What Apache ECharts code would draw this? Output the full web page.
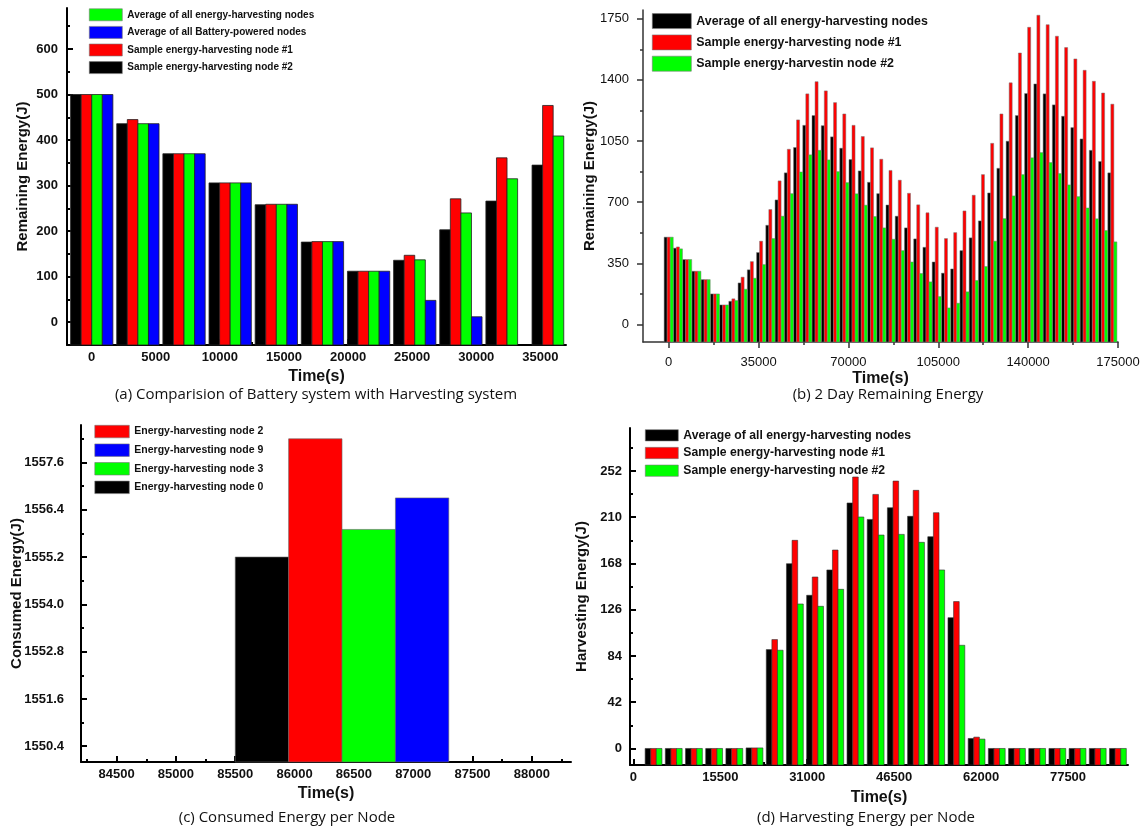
<!DOCTYPE html>
<html>
<head>
<meta charset="utf-8">
<script src="https://cdn.jsdelivr.net/npm/echarts@6.0.0/dist/echarts.min.js"></script>
<style>
  html, body { margin: 0; padding: 0; background: #fff; }
  #wrap { position: relative; width: 1145px; height: 833px; }
  .panel { position: absolute; }
  #pa { left: 0; top: 0; width: 572px; height: 416px; }
  #pb { left: 572px; top: 0; width: 573px; height: 416px; }
  #pc { left: 0; top: 416px; width: 572px; height: 417px; }
  #pd { left: 572px; top: 416px; width: 573px; height: 417px; }
</style>
</head>
<body>
<div id="wrap">
  <div id="pa" class="panel"></div>
  <div id="pb" class="panel"></div>
  <div id="pc" class="panel"></div>
  <div id="pd" class="panel"></div>
</div>
<script>
// ---- (a) battery vs harvesting, remaining energy (J) every hour ----
const timeA = [0, 3600, 7200, 10800, 14400, 18000, 21600, 25200, 28800, 32400, 36000];
const aNode2 = [500, 436, 370, 306, 258, 176, 112, 136, 203, 266, 345];
const aNode1 = [500, 445, 370, 306, 259, 177, 112, 147, 271, 361, 476];
const aAvgHarv = [500, 436, 370, 306, 259, 177, 112, 137, 240, 315, 409];
const aAvgBatt = [500, 436, 370, 306, 259, 177, 112, 48, 12, null, null];
const aYLabels = [0, 100, 200, 300, 400, 500, 600];
const aYMinor = [50, 150, 250, 350, 450, 550, 650];
const aXLabels = [0, 5000, 10000, 15000, 20000, 25000, 30000, 35000];
const aXMinor = [2500, 7500, 12500, 17500, 22500, 27500, 32500];

// ---- (b) 2 day remaining energy ----
const timeB = [0, 3600, 7200, 10800, 14400, 18000, 21600, 25200, 28800, 32400, 36000, 39600,
  43200, 46800, 50400, 54000, 57600, 61200, 64800, 68400, 72000, 75600, 79200, 82800,
  86400, 90000, 93600, 97200, 100800, 104400, 108000, 111600, 115200, 118800, 122400, 126000,
  129600, 133200, 136800, 140400, 144000, 147600, 151200, 154800, 158400, 162000, 165600, 169200, 172800];
const bAvg = [500, 437, 372, 305, 257, 175, 112, 133, 238, 313, 412, 568,
  713, 868, 1013, 1140, 1196, 1138, 1074, 1009, 944, 879, 814, 749,
  684, 620, 553, 490, 442, 358, 294, 318, 423, 496, 593, 753,
  894, 1049, 1196, 1322, 1377, 1320, 1257, 1192, 1127, 1062, 997, 933, 868];
const bNode1 = [500, 444, 372, 305, 257, 175, 112, 147, 271, 360, 477, 658,
  822, 1003, 1171, 1320, 1390, 1337, 1270, 1205, 1140, 1076, 1011, 946,
  882, 826, 751, 685, 639, 557, 492, 526, 650, 740, 858, 1037,
  1205, 1383, 1554, 1701, 1770, 1716, 1650, 1585, 1520, 1455, 1392, 1325, 1261];
const bNode2 = [500, 433, 372, 305, 257, 175, 112, 137, 202, 265, 343, 492,
  620, 749, 873, 971, 997, 942, 875, 812, 748, 683, 618, 553,
  488, 423, 358, 292, 244, 160, 95, 122, 187, 252, 332, 477,
  606, 736, 858, 954, 984, 927, 864, 799, 732, 667, 605, 538, 473];
const bYLabels = [0, 350, 700, 1050, 1400, 1750];
const bYMinor = [175, 525, 875, 1225, 1575];
const bXLabels = [0, 35000, 70000, 105000, 140000, 175000];
const bXMinor = [17500, 52500, 87500, 122500, 157500];

// ---- (c) consumed energy per node at 86400 s ----
const timeC = [86400];
const cNode0 = [1555.2];
const cNode2 = [1558.2];
const cNode3 = [1555.9];
const cNode9 = [1556.7];
const cYLabels = [1550.4, 1551.6, 1552.8, 1554.0, 1555.2, 1556.4, 1557.6];
const cYMinor = [1551.0, 1552.2, 1553.4, 1554.6, 1555.8, 1557.0, 1558.2];
const cXLabels = [84500, 85000, 85500, 86000, 86500, 87000, 87500, 88000];
const cXMinor = [84250, 84750, 85250, 85750, 86250, 86750, 87250, 87750, 88250];

// ---- (d) harvesting energy per node ----
const timeD = [3600, 7200, 10800, 14400, 18000, 21600, 25200, 28800, 32400, 36000, 39600, 43200,
  46800, 50400, 54000, 57600, 61200, 64800, 68400, 72000, 75600, 79200, 82800, 86400];
const dAvg = [0, 0, 0, 0, 0, 0.5, 89.8, 167.8, 139.1, 162.1, 222.9, 208,
  218.6, 210.8, 192.3, 118.8, 9.1, 0, 0, 0, 0, 0, 0, 0];
const dNode1 = [0, 0, 0, 0, 0, 0.5, 98.9, 189, 155.7, 180.2, 246.5, 230.7,
  242.8, 234.4, 214.1, 133.4, 10.3, 0, 0, 0, 0, 0, 0, 0];
const dNode2 = [0, 0, 0, 0, 0, 0.5, 89.2, 131.2, 129.1, 144.5, 210.2, 193.8,
  194.4, 187.2, 162.1, 93.7, 8.5, 0, 0, 0, 0, 0, 0, 0];
const dYLabels = [0, 42, 84, 126, 168, 210, 252];
const dYMinor = [21, 63, 105, 147, 189, 231, 273];
const dXLabels = [0, 15500, 31000, 46500, 62000, 77500];
const dXMinor = [7750, 23250, 38750, 54250, 69750, 85250];

const BOLD = '"Liberation Sans", Arial, sans-serif';
const BLACK = '#000000', RED = '#ff0000', GREEN = '#00ff00', BLUE = '#0000ff';

// grouped bar drawn from the bottom of the value axis (Origin style)
function groupBar(name, color, xs, ys, idx, n, groupW, base, stroke, lw) {
  return {
    type: 'custom',
    name: name,
    itemStyle: { color: color, borderColor: stroke, borderWidth: lw },
    data: xs.map((x, i) => [x, ys[i]]),
    encode: { x: 0, y: 1 },
    renderItem: function (params, api) {
      const v = api.value(1);
      if (v === null || isNaN(v)) return;
      const x0 = api.value(0) - groupW / 2 + idx * groupW / n;
      const p0 = api.coord([x0, v]);
      const p1 = api.coord([x0 + groupW / n, base]);
      return {
        type: 'rect',
        shape: { x: p0[0], y: p0[1], width: p1[0] - p0[0], height: p1[1] - p0[1] },
        style: { fill: color, stroke: stroke, lineWidth: lw }
      };
    }
  };
}

// main axis + a second axis carrying only the short minor ticks
function axisPair(dim, o) {
  const main = {
    type: 'value', min: o.min, max: o.max,
    position: dim === 'x' ? 'bottom' : 'left',
    axisLine: { onZero: false, lineStyle: { color: o.lineColor || '#000', width: o.lineWidth || 2 } },
    axisTick: { inside: o.inside, length: 6, customValues: o.labels,
      lineStyle: { color: o.lineColor || '#000', width: o.lineWidth || 2 } },
    axisLabel: { customValues: o.labels, margin: o.margin, fontFamily: BOLD,
      fontWeight: o.labelWeight || 'bold', fontSize: o.labelSize || 13, color: '#111',
      formatter: o.fmt || (v => String(v)) },
    splitLine: { show: false },
    name: o.name, nameLocation: 'middle', nameGap: o.nameGap, nameMoveOverlap: false,
    nameTextStyle: { fontFamily: BOLD, fontWeight: 'bold', fontSize: o.nameSize || 15, color: '#111' }
  };
  const minor = {
    type: 'value', min: o.min, max: o.max,
    position: dim === 'x' ? 'bottom' : 'left',
    axisLine: { show: false, onZero: false },
    axisTick: { inside: o.inside, length: 3, customValues: o.minor,
      lineStyle: { color: o.lineColor || '#000', width: o.lineWidth || 2 } },
    axisLabel: { show: false },
    splitLine: { show: false }
  };
  return [main, minor];
}

function legendCfg(o) {
  return {
    orient: 'vertical', left: o.left, top: o.top, icon: 'rect',
    itemWidth: o.w, itemHeight: o.h, itemGap: o.gap, selectedMode: false,
    data: o.data,
    itemStyle: { borderColor: '#777', borderWidth: 0.6 },
    textStyle: { fontFamily: BOLD, fontWeight: 'bold', fontSize: o.size, color: '#111' }
  };
}

function caption(x, y, text) {
  return [{
    type: 'text', x: x, y: y,
    style: { text: text, font: '15px "Open Sans", "Noto Sans", sans-serif',
      textAlign: 'center', textVerticalAlign: 'middle', fill: '#111' }
  }];
}

// ---------------- (a) ----------------
const chartA = echarts.init(document.getElementById('pa'));
chartA.setOption({
  animation: false,
  grid: { left: 67, top: 8, width: 499, height: 337, outerBoundsMode: 'none' },
  legend: legendCfg({ left: 84, top: 3.5, w: 33, h: 12, gap: 5, size: 10,
    data: ['Average of all energy-harvesting nodes', 'Average of all Battery-powered nodes',
      'Sample energy-harvesting node #1', 'Sample energy-harvesting node #2'] }),
  xAxis: axisPair('x', { min: -1930, max: 37000, labels: aXLabels, minor: aXMinor, inside: true,
    margin: 6, name: 'Time(s)', nameGap: 24, nameSize: 16 }),
  yAxis: axisPair('y', { min: -50, max: 690, labels: aYLabels, minor: aYMinor, inside: true,
    margin: 9, name: 'Remaining Energy(J)', nameGap: 37 }),
  graphic: caption(316, 395, '(a) Comparision of Battery system with Harvesting system'),
  series: [
    groupBar('Sample energy-harvesting node #2', BLACK, timeA, aNode2, 0, 4, 3300, -50, '#222', 0.8),
    groupBar('Sample energy-harvesting node #1', RED, timeA, aNode1, 1, 4, 3300, -50, '#222', 0.8),
    groupBar('Average of all energy-harvesting nodes', GREEN, timeA, aAvgHarv, 2, 4, 3300, -50, '#222', 0.8),
    groupBar('Average of all Battery-powered nodes', BLUE, timeA, aAvgBatt, 3, 4, 3300, -50, '#222', 0.8)
  ]
});

// ---------------- (b) ----------------
const chartB = echarts.init(document.getElementById('pb'));
chartB.setOption({
  animation: false,
  grid: { left: 71, top: 10, width: 475, height: 332, outerBoundsMode: 'none' },
  legend: legendCfg({ left: 75, top: 8.3, w: 39, h: 15, gap: 5.7, size: 12.4,
    data: ['Average of all energy-harvesting nodes', 'Sample energy-harvesting node #1',
      'Sample energy-harvestin node #2'] }),
  xAxis: axisPair('x', { min: -10000, max: 175000, labels: bXLabels, minor: bXMinor, inside: false,
    margin: 14, labelWeight: 'normal', labelSize: 13, lineColor: '#333', lineWidth: 1.5,
    name: 'Time(s)', nameGap: 29, nameSize: 16 }),
  yAxis: axisPair('y', { min: -100, max: 1800, labels: bYLabels, minor: bYMinor, inside: false,
    margin: 14, labelWeight: 'normal', labelSize: 13, lineColor: '#333', lineWidth: 1.5,
    name: 'Remaining Energy(J)', nameGap: 46 }),
  graphic: caption(316, 395, '(b) 2 Day Remaining Energy'),
  series: [
    groupBar('Average of all energy-harvesting nodes', BLACK, timeB, bAvg, 0, 3, 3540, -100, '#777', 0.5),
    groupBar('Sample energy-harvesting node #1', RED, timeB, bNode1, 1, 3, 3540, -100, '#777', 0.5),
    groupBar('Sample energy-harvestin node #2', GREEN, timeB, bNode2, 2, 3, 3540, -100, '#777', 0.5)
  ]
});

// ---------------- (c) ----------------
const chartC = echarts.init(document.getElementById('pc'));
chartC.setOption({
  animation: false,
  grid: { left: 81, top: 9, width: 490, height: 337, outerBoundsMode: 'none' },
  legend: legendCfg({ left: 89.5, top: 4, w: 34.5, h: 12.5, gap: 5.5, size: 10.5,
    data: ['Energy-harvesting node 2', 'Energy-harvesting node 9',
      'Energy-harvesting node 3', 'Energy-harvesting node 0'] }),
  xAxis: axisPair('x', { min: 84200, max: 88330, labels: cXLabels, minor: cXMinor, inside: true,
    margin: 6, name: 'Time(s)', nameGap: 24, nameSize: 16 }),
  yAxis: axisPair('y', { min: 1550.0, max: 1558.55, labels: cYLabels, minor: cYMinor, inside: true,
    margin: 17, fmt: v => v.toFixed(1), name: 'Consumed Energy(J)', nameGap: 57 }),
  graphic: caption(287, 402, '(c) Consumed Energy per Node'),
  series: [
    groupBar('Energy-harvesting node 0', BLACK, timeC, cNode0, 0, 4, 1800, 1550.0, '#666', 0.6),
    groupBar('Energy-harvesting node 2', RED, timeC, cNode2, 1, 4, 1800, 1550.0, '#666', 0.6),
    groupBar('Energy-harvesting node 3', GREEN, timeC, cNode3, 2, 4, 1800, 1550.0, '#666', 0.6),
    groupBar('Energy-harvesting node 9', BLUE, timeC, cNode9, 3, 4, 1800, 1550.0, '#666', 0.6)
  ]
});

// ---------------- (d) ----------------
const chartD = echarts.init(document.getElementById('pd'));
chartD.setOption({
  animation: false,
  grid: { left: 58, top: 12, width: 498, height: 337, outerBoundsMode: 'none' },
  legend: legendCfg({ left: 68, top: 8.3, w: 33, h: 11.3, gap: 5.7, size: 12.2,
    data: ['Average of all energy-harvesting nodes', 'Sample energy-harvesting node #1',
      'Sample energy-harvesting node #2'] }),
  xAxis: axisPair('x', { min: -600, max: 88200, labels: dXLabels, minor: dXMinor, inside: true,
    margin: 6, name: 'Time(s)', nameGap: 25, nameSize: 16 }),
  yAxis: axisPair('y', { min: -15, max: 291, labels: dYLabels, minor: dYMinor, inside: true,
    margin: 8, name: 'Harvesting Energy(J)', nameGap: 41 }),
  graphic: caption(294, 402, '(d) Harvesting Energy per Node'),
  series: [
    groupBar('Average of all energy-harvesting nodes', BLACK, timeD, dAvg, 0, 3, 3000, -15, '#333', 0.6),
    groupBar('Sample energy-harvesting node #1', RED, timeD, dNode1, 1, 3, 3000, -15, '#333', 0.6),
    groupBar('Sample energy-harvesting node #2', GREEN, timeD, dNode2, 2, 3, 3000, -15, '#333', 0.6)
  ]
});
</script>
</body>
</html>
